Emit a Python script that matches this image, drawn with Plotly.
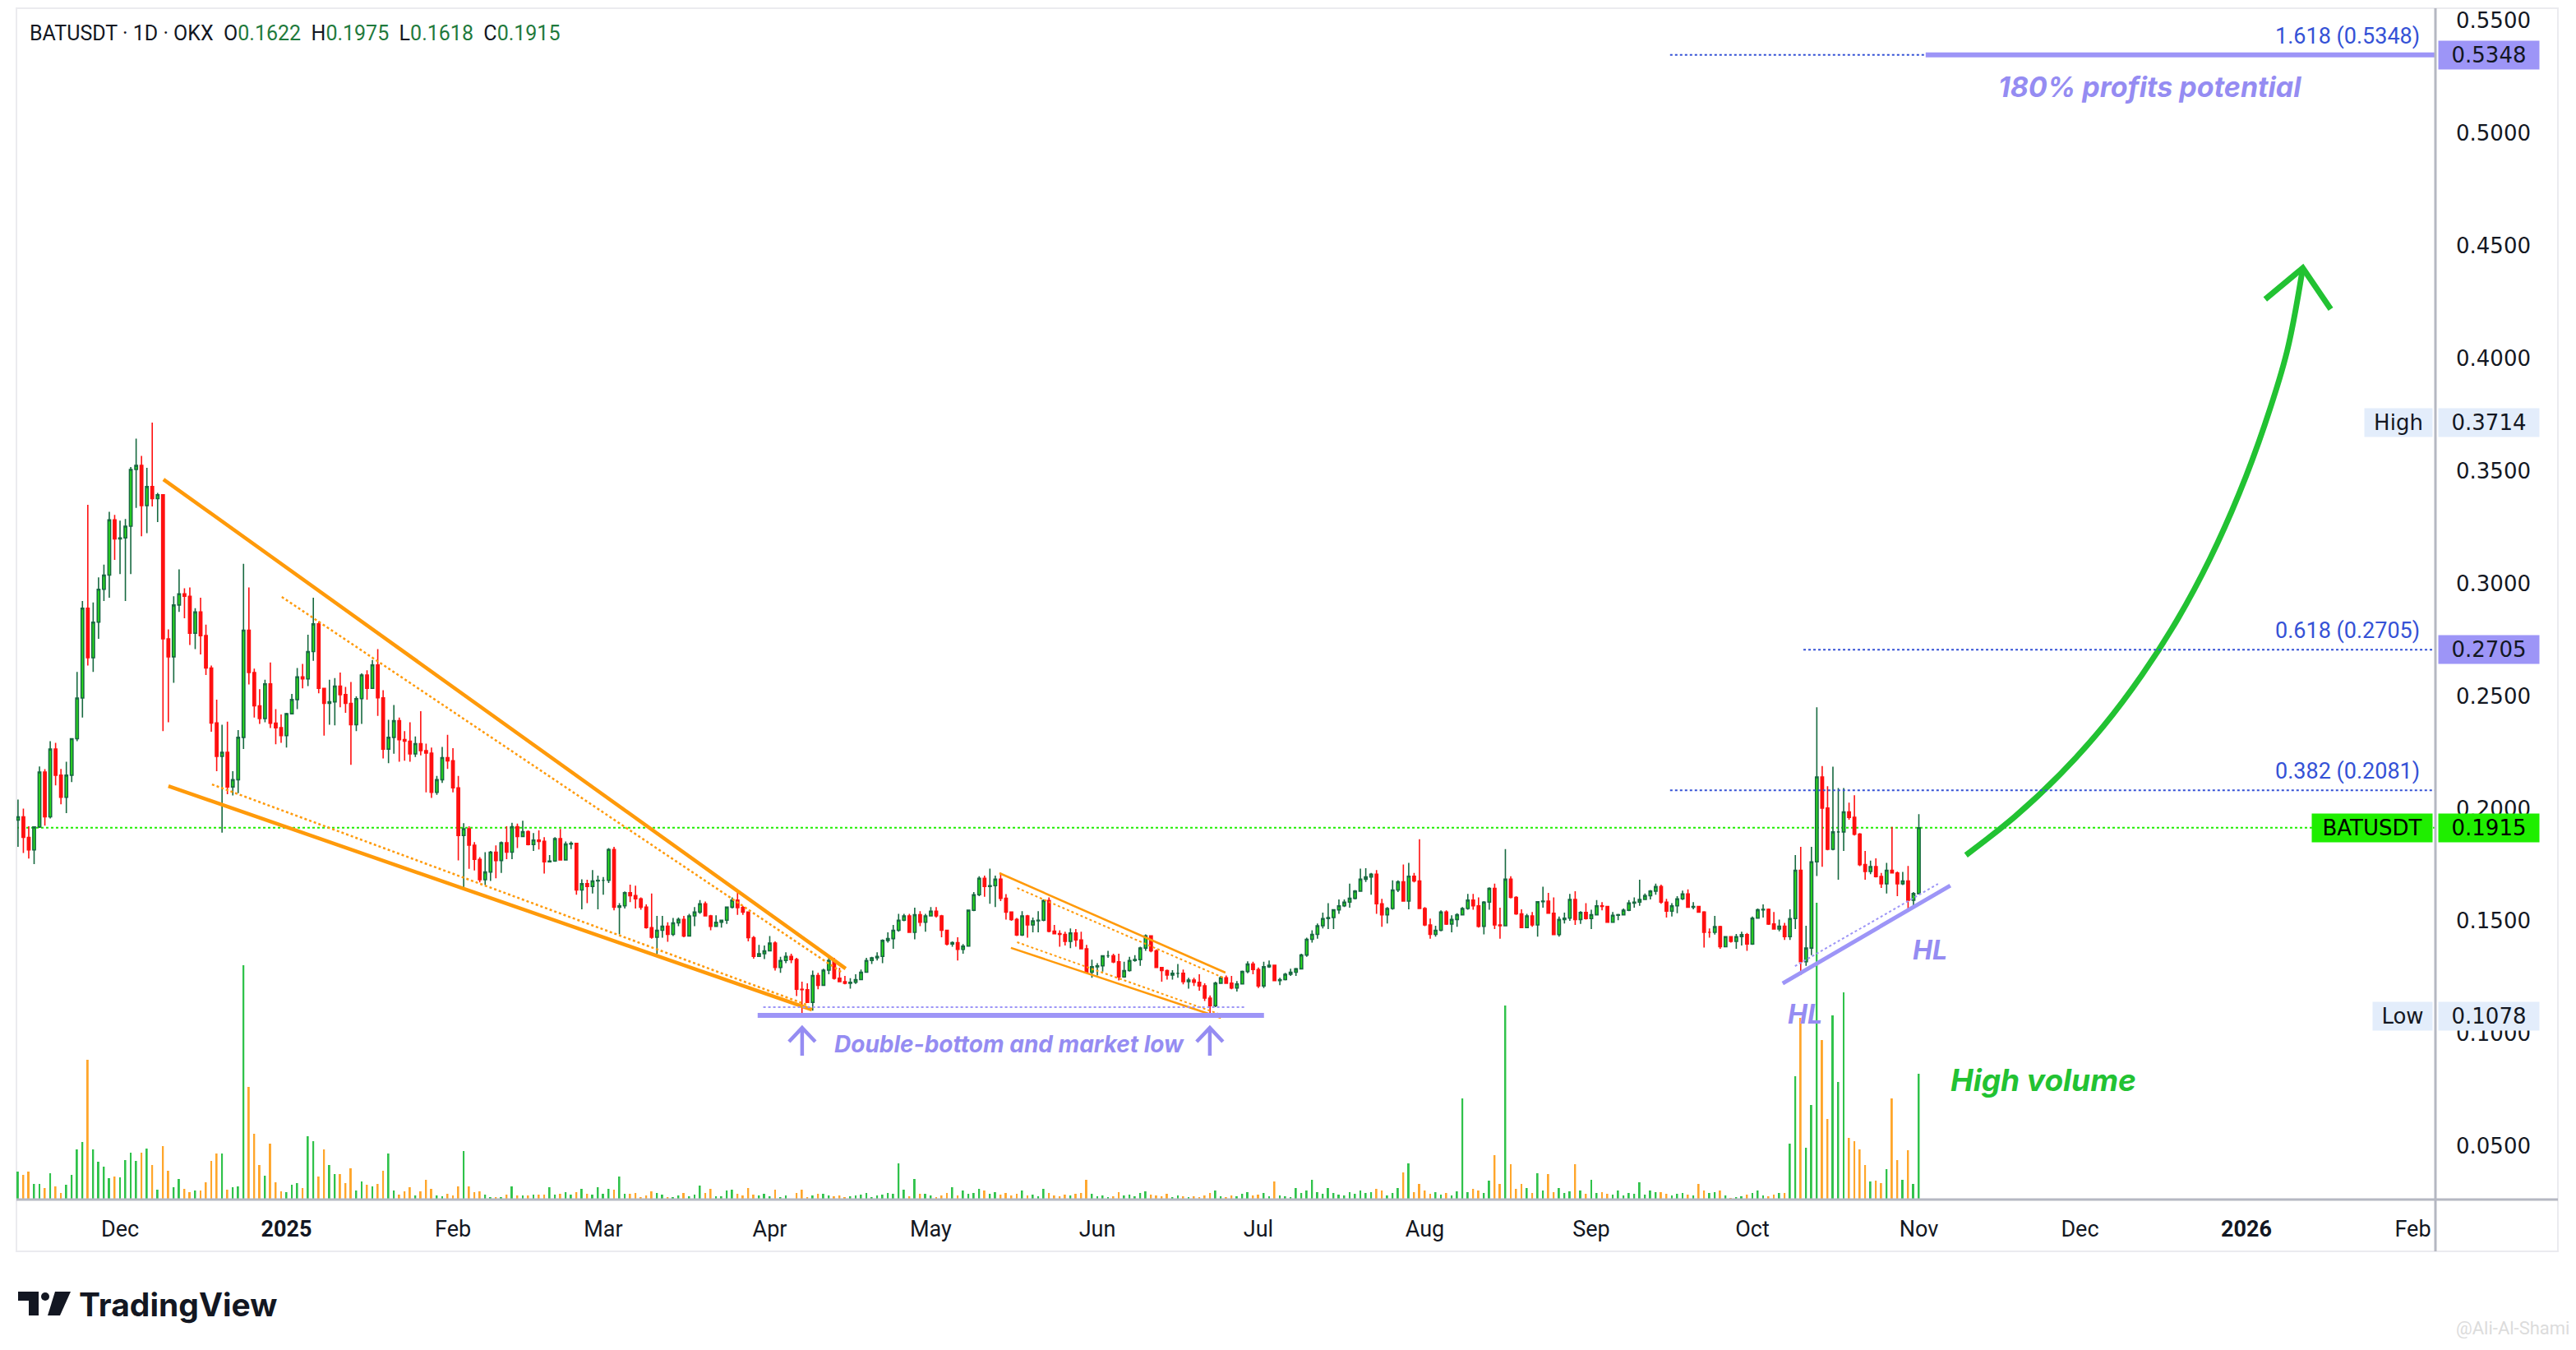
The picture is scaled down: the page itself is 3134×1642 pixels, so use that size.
import plotly.graph_objects as go
import pandas as pd

# ---------------- data (BATUSDT 1D, OKX) ----------------
START_DATE = "2024-11-12"
FIRST_OPEN = 0.1949

close = [
    0.1963, 0.1872, 0.1816, 0.1918, 0.2162, 0.1963, 0.2264, 0.2148, 0.2050, 0.2148,
    0.2310, 0.2491, 0.2890, 0.2670, 0.2828, 0.2974, 0.3037, 0.3282, 0.3198, 0.3202,
    0.3254, 0.3506, 0.3524, 0.3346, 0.3430, 0.3377, 0.3394, 0.2754, 0.2674, 0.2904,
    0.2954, 0.2943, 0.2779, 0.2873, 0.2768, 0.2624, 0.2380, 0.2232, 0.2250, 0.2096,
    0.2128, 0.2316, 0.2792, 0.2604, 0.2456, 0.2400, 0.2554, 0.2379, 0.2359, 0.2324,
    0.2421, 0.2484, 0.2585, 0.2576, 0.2697, 0.2820, 0.2534, 0.2467, 0.2474, 0.2544,
    0.2506, 0.2467, 0.2372, 0.2488, 0.2593, 0.2534, 0.2638, 0.2492, 0.2264, 0.2316,
    0.2390, 0.2306, 0.2299, 0.2243, 0.2288, 0.2257, 0.2246, 0.2072, 0.2128, 0.2226,
    0.2212, 0.2092, 0.1880, 0.1910, 0.1837, 0.1774, 0.1684, 0.1718, 0.1806, 0.1769,
    0.1848, 0.1806, 0.1919, 0.1876, 0.1897, 0.1840, 0.1860, 0.1854, 0.1763, 0.1767,
    0.1866, 0.1772, 0.1842, 0.1845, 0.1638, 0.1666, 0.1654, 0.1678, 0.1681, 0.1681,
    0.1818, 0.1562, 0.1568, 0.1626, 0.1613, 0.1599, 0.1562, 0.1471, 0.1428, 0.1459,
    0.1477, 0.1441, 0.1492, 0.1507, 0.1434, 0.1523, 0.1540, 0.1577, 0.1523, 0.1477,
    0.1495, 0.1504, 0.1562, 0.1593, 0.1560, 0.1540, 0.1426, 0.1343, 0.1355, 0.1368,
    0.1402, 0.1294, 0.1325, 0.1343, 0.1329, 0.1197, 0.1195, 0.1139, 0.1258, 0.1215,
    0.1282, 0.1325, 0.1246, 0.1231, 0.1224, 0.1228, 0.1240, 0.1273, 0.1325, 0.1337,
    0.1343, 0.1414, 0.1422, 0.1459, 0.1504, 0.1523, 0.1450, 0.1528, 0.1495, 0.1523,
    0.1544, 0.1523, 0.1459, 0.1398, 0.1404, 0.1374, 0.1389, 0.1548, 0.1617, 0.1690,
    0.1654, 0.1657, 0.1686, 0.1601, 0.1540, 0.1507, 0.1438, 0.1523, 0.1483, 0.1501,
    0.1504, 0.1591, 0.1455, 0.1444, 0.1441, 0.1410, 0.1447, 0.1416, 0.1377, 0.1273,
    0.1297, 0.1301, 0.1346, 0.1346, 0.1319, 0.1252, 0.1280, 0.1325, 0.1329, 0.1380,
    0.1434, 0.1368, 0.1294, 0.1280, 0.1260, 0.1268, 0.1268, 0.1231, 0.1238, 0.1228,
    0.1212, 0.1158, 0.1124, 0.1224, 0.1248, 0.1224, 0.1203, 0.1221, 0.1276, 0.1309,
    0.1285, 0.1212, 0.1297, 0.1304, 0.1236, 0.1240, 0.1264, 0.1273, 0.1288, 0.1349,
    0.1419, 0.1441, 0.1479, 0.1511, 0.1516, 0.1550, 0.1568, 0.1584, 0.1601, 0.1633,
    0.1686, 0.1696, 0.1708, 0.1577, 0.1528, 0.1556, 0.1638, 0.1674, 0.1589, 0.1699,
    0.1678, 0.1556, 0.1483, 0.1441, 0.1459, 0.1540, 0.1487, 0.1507, 0.1528, 0.1556,
    0.1593, 0.1568, 0.1477, 0.1584, 0.1645, 0.1483, 0.1479, 0.1686, 0.1605, 0.1532,
    0.1471, 0.1523, 0.1483, 0.1586, 0.1589, 0.1535, 0.1440, 0.1507, 0.1513, 0.1596,
    0.1507, 0.1538, 0.1511, 0.1528, 0.1568, 0.1565, 0.1495, 0.1526, 0.1528, 0.1548,
    0.1580, 0.1584, 0.1596, 0.1613, 0.1633, 0.1653, 0.1584, 0.1544, 0.1568, 0.1599,
    0.1621, 0.1562, 0.1565, 0.1540, 0.1450, 0.1450, 0.1475, 0.1386, 0.1431, 0.1410,
    0.1431, 0.1440, 0.1398, 0.1513, 0.1550, 0.1552, 0.1487, 0.1465, 0.1477, 0.1431,
    0.1511, 0.1726, 0.1320, 0.1380, 0.1763, 0.2140, 0.2002, 0.1819, 0.1896, 0.1896,
    0.1985, 0.1961, 0.1886, 0.1751, 0.1720, 0.1742, 0.1698, 0.1666, 0.1726, 0.1714,
    0.1666, 0.1678, 0.1593, 0.1622, 0.1915,
]

high = [
    0.2040, 0.2000, 0.1921, 0.1921, 0.2187, 0.2175, 0.2299, 0.2292, 0.2176, 0.2208,
    0.2313, 0.2607, 0.2922, 0.3349, 0.2915, 0.3027, 0.3083, 0.3318, 0.3304, 0.3279,
    0.3286, 0.3517, 0.3643, 0.3566, 0.3513, 0.3714, 0.3402, 0.3394, 0.2796, 0.2943,
    0.3062, 0.2978, 0.2982, 0.2890, 0.2936, 0.2817, 0.2635, 0.2484, 0.2372, 0.2386,
    0.2166, 0.2348, 0.3087, 0.2982, 0.2621, 0.2530, 0.2572, 0.2649, 0.2442, 0.2418,
    0.2425, 0.2509, 0.2624, 0.2642, 0.2772, 0.2936, 0.2831, 0.2530, 0.2572, 0.2579,
    0.2604, 0.2540, 0.2562, 0.2498, 0.2600, 0.2614, 0.2660, 0.2708, 0.2526, 0.2394,
    0.2460, 0.2404, 0.2344, 0.2383, 0.2320, 0.2432, 0.2288, 0.2271, 0.2145, 0.2274,
    0.2327, 0.2268, 0.2145, 0.1935, 0.1921, 0.1851, 0.1784, 0.1806, 0.1812, 0.1836,
    0.1854, 0.1921, 0.1937, 0.1933, 0.1946, 0.1903, 0.1891, 0.1903, 0.1873, 0.1793,
    0.1873, 0.1909, 0.1854, 0.1854, 0.1842, 0.1686, 0.1684, 0.1727, 0.1702, 0.1696,
    0.1824, 0.1830, 0.1580, 0.1632, 0.1662, 0.1657, 0.1605, 0.1574, 0.1623, 0.1523,
    0.1523, 0.1495, 0.1514, 0.1516, 0.1523, 0.1532, 0.1562, 0.1593, 0.1587, 0.1528,
    0.1526, 0.1507, 0.1565, 0.1605, 0.1626, 0.1568, 0.1538, 0.1434, 0.1394, 0.1392,
    0.1434, 0.1410, 0.1341, 0.1361, 0.1355, 0.1337, 0.1231, 0.1224, 0.1280, 0.1270,
    0.1288, 0.1337, 0.1337, 0.1292, 0.1256, 0.1246, 0.1264, 0.1285, 0.1337, 0.1341,
    0.1361, 0.1419, 0.1450, 0.1483, 0.1532, 0.1532, 0.1532, 0.1560, 0.1544, 0.1532,
    0.1562, 0.1562, 0.1528, 0.1462, 0.1410, 0.1428, 0.1398, 0.1550, 0.1629, 0.1699,
    0.1702, 0.1733, 0.1702, 0.1714, 0.1620, 0.1540, 0.1514, 0.1544, 0.1528, 0.1516,
    0.1544, 0.1596, 0.1605, 0.1483, 0.1459, 0.1453, 0.1467, 0.1465, 0.1453, 0.1394,
    0.1329, 0.1313, 0.1349, 0.1368, 0.1355, 0.1355, 0.1319, 0.1341, 0.1349, 0.1386,
    0.1441, 0.1434, 0.1374, 0.1297, 0.1285, 0.1282, 0.1309, 0.1285, 0.1248, 0.1248,
    0.1264, 0.1224, 0.1170, 0.1231, 0.1256, 0.1258, 0.1256, 0.1234, 0.1280, 0.1321,
    0.1319, 0.1294, 0.1319, 0.1325, 0.1307, 0.1248, 0.1270, 0.1288, 0.1292, 0.1355,
    0.1426, 0.1459, 0.1489, 0.1538, 0.1580, 0.1552, 0.1596, 0.1596, 0.1666, 0.1638,
    0.1733, 0.1735, 0.1714, 0.1727, 0.1599, 0.1562, 0.1681, 0.1681, 0.1751, 0.1759,
    0.1714, 0.1864, 0.1562, 0.1511, 0.1479, 0.1548, 0.1548, 0.1526, 0.1535, 0.1562,
    0.1621, 0.1621, 0.1605, 0.1589, 0.1650, 0.1666, 0.1560, 0.1820, 0.1699, 0.1611,
    0.1552, 0.1532, 0.1540, 0.1589, 0.1653, 0.1625, 0.1605, 0.1520, 0.1538, 0.1621,
    0.1633, 0.1544, 0.1580, 0.1550, 0.1593, 0.1584, 0.1568, 0.1540, 0.1532, 0.1556,
    0.1593, 0.1605, 0.1684, 0.1623, 0.1638, 0.1666, 0.1662, 0.1599, 0.1580, 0.1611,
    0.1635, 0.1641, 0.1584, 0.1568, 0.1544, 0.1467, 0.1523, 0.1479, 0.1434, 0.1431,
    0.1443, 0.1453, 0.1447, 0.1520, 0.1556, 0.1574, 0.1556, 0.1540, 0.1507, 0.1492,
    0.1552, 0.1793, 0.1830, 0.1479, 0.1830, 0.2450, 0.2189, 0.2099, 0.2186, 0.2091,
    0.2091, 0.2026, 0.2059, 0.1891, 0.1812, 0.1769, 0.1779, 0.1714, 0.1759, 0.1918,
    0.1720, 0.1718, 0.1745, 0.1629, 0.1975,
]

low = [
    0.1830, 0.1802, 0.1778, 0.1753, 0.1914, 0.1924, 0.1956, 0.2103, 0.2019, 0.1980,
    0.2117, 0.2299, 0.2404, 0.2635, 0.2607, 0.2754, 0.2922, 0.2936, 0.3104, 0.3041,
    0.2922, 0.3041, 0.3335, 0.3209, 0.3223, 0.3342, 0.3272, 0.2344, 0.2383, 0.2558,
    0.2873, 0.2845, 0.2726, 0.2708, 0.2684, 0.2593, 0.2341, 0.2166, 0.1893, 0.2064,
    0.2058, 0.2068, 0.2264, 0.2551, 0.2404, 0.2376, 0.2383, 0.2358, 0.2285, 0.2292,
    0.2271, 0.2418, 0.2442, 0.2534, 0.2544, 0.2656, 0.2512, 0.2324, 0.2372, 0.2369,
    0.2450, 0.2425, 0.2194, 0.2344, 0.2376, 0.2484, 0.2537, 0.2411, 0.2222, 0.2201,
    0.2243, 0.2208, 0.2212, 0.2208, 0.2229, 0.2236, 0.2072, 0.2047, 0.2061, 0.2114,
    0.2176, 0.2072, 0.1770, 0.1644, 0.1732, 0.1725, 0.1672, 0.1660, 0.1678, 0.1690,
    0.1714, 0.1775, 0.1775, 0.1824, 0.1873, 0.1836, 0.1812, 0.1818, 0.1711, 0.1763,
    0.1763, 0.1769, 0.1787, 0.1820, 0.1617, 0.1552, 0.1580, 0.1623, 0.1552, 0.1617,
    0.1669, 0.1548, 0.1441, 0.1556, 0.1584, 0.1556, 0.1550, 0.1466, 0.1422, 0.1353,
    0.1426, 0.1408, 0.1434, 0.1477, 0.1428, 0.1434, 0.1477, 0.1532, 0.1520, 0.1459,
    0.1477, 0.1471, 0.1487, 0.1556, 0.1528, 0.1528, 0.1410, 0.1333, 0.1343, 0.1331,
    0.1368, 0.1280, 0.1270, 0.1313, 0.1313, 0.1167, 0.1078, 0.1136, 0.1102, 0.1197,
    0.1215, 0.1264, 0.1240, 0.1228, 0.1219, 0.1200, 0.1221, 0.1240, 0.1270, 0.1309,
    0.1325, 0.1313, 0.1404, 0.1377, 0.1453, 0.1499, 0.1447, 0.1419, 0.1477, 0.1453,
    0.1520, 0.1516, 0.1428, 0.1392, 0.1386, 0.1325, 0.1355, 0.1386, 0.1544, 0.1611,
    0.1608, 0.1577, 0.1562, 0.1589, 0.1507, 0.1501, 0.1434, 0.1434, 0.1426, 0.1450,
    0.1450, 0.1499, 0.1450, 0.1441, 0.1386, 0.1392, 0.1380, 0.1386, 0.1374, 0.1270,
    0.1248, 0.1258, 0.1276, 0.1337, 0.1313, 0.1236, 0.1248, 0.1276, 0.1319, 0.1301,
    0.1368, 0.1361, 0.1292, 0.1231, 0.1240, 0.1240, 0.1248, 0.1219, 0.1200, 0.1212,
    0.1191, 0.1145, 0.1082, 0.1118, 0.1228, 0.1222, 0.1197, 0.1187, 0.1228, 0.1268,
    0.1264, 0.1203, 0.1203, 0.1292, 0.1234, 0.1215, 0.1236, 0.1256, 0.1256, 0.1285,
    0.1341, 0.1404, 0.1422, 0.1467, 0.1465, 0.1465, 0.1532, 0.1562, 0.1560, 0.1596,
    0.1633, 0.1674, 0.1617, 0.1532, 0.1475, 0.1489, 0.1550, 0.1629, 0.1587, 0.1552,
    0.1672, 0.1556, 0.1477, 0.1422, 0.1431, 0.1455, 0.1483, 0.1450, 0.1475, 0.1526,
    0.1550, 0.1550, 0.1471, 0.1441, 0.1550, 0.1465, 0.1422, 0.1479, 0.1601, 0.1528,
    0.1471, 0.1471, 0.1475, 0.1431, 0.1560, 0.1532, 0.1438, 0.1431, 0.1489, 0.1501,
    0.1483, 0.1487, 0.1507, 0.1465, 0.1528, 0.1548, 0.1492, 0.1492, 0.1504, 0.1528,
    0.1544, 0.1560, 0.1568, 0.1593, 0.1596, 0.1617, 0.1577, 0.1516, 0.1520, 0.1535,
    0.1593, 0.1560, 0.1552, 0.1538, 0.1382, 0.1426, 0.1440, 0.1377, 0.1389, 0.1404,
    0.1377, 0.1392, 0.1368, 0.1394, 0.1511, 0.1516, 0.1483, 0.1462, 0.1455, 0.1416,
    0.1416, 0.1465, 0.1260, 0.1301, 0.1349, 0.1700, 0.1741, 0.1814, 0.1814, 0.1684,
    0.1812, 0.1950, 0.1880, 0.1744, 0.1684, 0.1708, 0.1694, 0.1647, 0.1623, 0.1711,
    0.1611, 0.1660, 0.1550, 0.1568, 0.1618,
]

# daily volume, in units of 100k BAT
volume_100k = [
    35, 31, 35, 20, 20, 15, 33, 17, 9, 19,
    31, 62, 71, 171, 62, 47, 41, 27, 29, 28,
    49, 58, 48, 58, 63, 43, 13, 66, 36, 16,
    26, 14, 10, 12, 12, 22, 48, 57, 57, 13,
    16, 17, 286, 138, 81, 43, 30, 69, 22, 11,
    10, 19, 21, 15, 78, 72, 29, 62, 43, 32,
    32, 21, 39, 12, 23, 19, 17, 20, 36, 57,
    12, 7, 11, 16, 6, 11, 25, 14, 6, 5,
    8, 6, 17, 60, 17, 10, 11, 7, 4, 4,
    4, 7, 17, 6, 6, 6, 7, 7, 7, 16,
    7, 8, 10, 7, 10, 14, 8, 7, 16, 8,
    14, 13, 29, 8, 8, 9, 4, 6, 11, 9,
    7, 4, 4, 6, 9, 5, 7, 18, 9, 14,
    5, 5, 12, 13, 8, 6, 15, 7, 6, 8,
    5, 13, 4, 6, 2, 9, 13, 4, 6, 8,
    8, 6, 5, 6, 4, 5, 6, 7, 9, 4,
    6, 7, 9, 8, 45, 13, 5, 26, 8, 8,
    6, 4, 6, 9, 16, 6, 12, 8, 9, 14,
    12, 8, 10, 7, 9, 6, 8, 12, 6, 7,
    5, 14, 9, 6, 5, 7, 6, 8, 9, 25,
    8, 5, 6, 4, 5, 10, 6, 7, 5, 9,
    11, 7, 6, 5, 8, 4, 6, 5, 4, 5,
    4, 6, 9, 12, 5, 4, 6, 5, 8, 10,
    6, 7, 9, 5, 23, 6, 5, 4, 15, 9,
    12, 25, 10, 8, 15, 9, 7, 6, 10, 8,
    12, 9, 10, 14, 12, 6, 9, 15, 34, 45,
    10, 20, 12, 8, 10, 7, 9, 6, 11, 124,
    10, 14, 12, 9, 24, 55, 20, 237, 44, 14,
    20, 15, 9, 33, 12, 32, 10, 15, 9, 11,
    44, 12, 8, 25, 9, 10, 8, 7, 12, 6,
    9, 8, 22, 7, 12, 10, 10, 8, 6, 8,
    9, 7, 6, 20, 12, 9, 10, 12, 6, 3,
    4, 5, 7, 9, 12, 6, 5, 7, 9, 9,
    69, 151, 222, 64, 116, 362, 195, 99, 225, 144,
    253, 76, 72, 62, 43, 23, 24, 21, 38, 124,
    49, 25, 61, 20, 154,
]

month_ticks = ["2024-12-01", "2025-01-01", "2025-02-01", "2025-03-01", "2025-04-01",
               "2025-05-01", "2025-06-01", "2025-07-01", "2025-08-01", "2025-09-01",
               "2025-10-01", "2025-11-01", "2025-12-01", "2026-01-01", "2026-02-01"]
month_labels = ["Dec", "<b>2025</b>", "Feb", "Mar", "Apr", "May", "Jun", "Jul", "Aug",
                "Sep", "Oct", "Nov", "Dec", "<b>2026</b>", "Feb"]
price_ticks = [0.05, 0.10, 0.15, 0.20, 0.25, 0.30, 0.35, 0.40, 0.45, 0.50, 0.55]
price_labels = ["0.0500", "0.1000", "0.1500", "0.2000", "0.2500", "0.3000",
                "0.3500", "0.4000", "0.4500", "0.5000", "0.5500"]

fib_ratio = ["1.618", "0.618", "0.382"]
fib_price = [0.5348, 0.2705, 0.2081]
fib_start = ["2025-09-15 16:00", "2025-10-10 12:00", "2025-09-15 16:00"]
target_start = "2025-11-02 06:30"

X_RANGE = ["2024-11-11 17:00", "2026-02-05 05:00"]
Y_RANGE = [0.02594, 0.5555]

# ---------------- derived ----------------
dates = pd.date_range(START_DATE, periods=len(close), freq="D")
open_ = [FIRST_OPEN] + close[:-1]
high = [max(h, o, c) for h, o, c in zip(high, open_, close)]
low = [min(l, o, c) for l, o, c in zip(low, open_, close)]
up = [c >= o for o, c in zip(open_, close)]

GREEN_V = "#2fc24a"
ORANGE_V = "#ffa62b"
vol_colors = [GREEN_V if u else ORANGE_V for u in up]

W, H = 3134, 1642
ML, MR, MT, MB = 20, 171, 10, 182
PW = W - ML - MR
PH = H - MT - MB


def px(x):
    return (x - ML) / PW


def py(y):
    return (H - MB - y) / PH


PURPLE = "#9d95f7"
PURPLE_T = "#958cf2"
ORANGE = "#ff9a0a"
FIB_BLUE = "#3552d6"
LIME = "#1fee00"
TEXT = "#131722"

fig = go.Figure()

fig.add_trace(go.Bar(
    x=dates, y=volume_100k, marker=dict(color=vol_colors, line=dict(width=0)),
    width=0.3 * 86400000, yaxis="y", hoverinfo="skip", showlegend=False))

fig.add_trace(go.Candlestick(
    x=dates, open=open_, high=high, low=low, close=close, yaxis="y2",
    increasing=dict(line=dict(color="#176a40", width=1.6), fillcolor="#2be31a"),
    decreasing=dict(line=dict(color="#ff1010", width=1.6), fillcolor="#ff1010"),
    whiskerwidth=0, hoverinfo="skip", showlegend=False))

# green forecast curve with chevron head
curve_x = ["2025-11-09 18:30", "2025-11-18 21:20", "2025-11-27 09:20", "2025-12-05 06:40",
           "2025-12-12 13:00", "2025-12-19 04:30", "2025-12-25 05:20", "2025-12-30 15:00",
           "2026-01-04 10:00", "2026-01-08 14:10", "2026-01-11 12:00"]
curve_y = [0.1793, 0.1964, 0.2154, 0.2363, 0.2593, 0.2841, 0.3110, 0.3398, 0.3705, 0.4033, 0.4401]
fig.add_trace(go.Scatter(x=curve_x, y=curve_y, yaxis="y2", mode="lines",
                         line=dict(color="#22c232", width=7, shape="spline"),
                         hoverinfo="skip", showlegend=False))
fig.add_trace(go.Scatter(x=["2026-01-04 12:00", "2026-01-11 12:00", "2026-01-16 17:00"],
                         y=[0.4262, 0.4401, 0.4218], yaxis="y2", mode="lines",
                         line=dict(color="#22c232", width=7), hoverinfo="skip", showlegend=False))

# up arrows under double bottom
for tip, lft, rgt in [("2025-04-07 00:40", "2025-04-04 14:00", "2025-04-09 11:30"),
                      ("2025-06-21 23:00", "2025-06-19 12:00", "2025-06-24 09:30")]:
    fig.add_trace(go.Scatter(x=[tip, tip, None, lft, tip, rgt],
                             y=[0.0902, 0.1026, None, 0.0964, 0.1026, 0.0964],
                             yaxis="y2", mode="lines", line=dict(color=PURPLE_T, width=4.5),
                             hoverinfo="skip", showlegend=False))

shapes = []


def seg(x0, y0, x1, y1, color, width, dash="solid", layer="above"):
    shapes.append(dict(type="line", xref="x", yref="y2", x0=x0, y0=y0, x1=x1, y1=y1,
                       line=dict(color=color, width=width, dash=dash), layer=layer))


# current price line
shapes.append(dict(type="line", xref="paper", yref="y2", x0=0, x1=1, y0=close[-1], y1=close[-1],
                   line=dict(color=LIME, width=2, dash="dot"), layer="below"))

# falling wedge #1
seg("2024-12-09 02:10", 0.3462, "2025-04-15 03:20", 0.1289, ORANGE, 4.5)
seg("2024-12-10 00:15", 0.2100, "2025-04-08 20:40", 0.1106, ORANGE, 4.5)
seg("2024-12-31 03:00", 0.2940, "2025-04-14 12:00", 0.1271, ORANGE, 2.5, "dot")
seg("2024-12-18 03:00", 0.2107, "2025-04-08 06:00", 0.1125, ORANGE, 2.5, "dot")
# falling wedge #2
seg("2025-05-13 18:30", 0.1713, "2025-06-24 20:40", 0.1271, ORANGE, 2.5)
seg("2025-05-15 22:00", 0.1381, "2025-06-24 00:30", 0.1070, ORANGE, 2.5)
seg("2025-05-17 01:40", 0.1647, "2025-06-24 19:00", 0.1245, ORANGE, 2, "dot")
seg("2025-05-17 01:40", 0.1406, "2025-06-23 14:00", 0.1088, ORANGE, 2, "dot")
# double bottom support
seg("2025-03-29 18:00", 0.1081, "2025-07-02 01:00", 0.1081, PURPLE, 6)
seg("2025-03-30 19:00", 0.1118, "2025-06-28 09:00", 0.1118, PURPLE, 2, "dot")
# higher-low trendline
seg("2025-10-06 15:20", 0.1223, "2025-11-06 20:40", 0.1658, PURPLE, 5)
seg("2025-10-08 22:20", 0.1300, "2025-11-04 13:40", 0.1665, PURPLE, 2, "dot")
# fib levels
for s, p in zip(fib_start, fib_price):
    seg(s, p, X_RANGE[1], p, FIB_BLUE, 2, "dot")
seg(target_start, fib_price[0], X_RANGE[1], fib_price[0], PURPLE, 6)

# frame & axis lines
shapes.append(dict(type="rect", xref="paper", yref="paper", x0=px(20), x1=px(3112),
                   y0=py(1522), y1=py(10), line=dict(color="#ebebef", width=2), layer="below"))
shapes.append(dict(type="line", xref="paper", yref="paper", x0=px(20), x1=px(3112),
                   y0=py(1459), y1=py(1459), line=dict(color="#b5b8c2", width=3)))
shapes.append(dict(type="line", xref="paper", yref="paper", x0=px(2963), x1=px(2963),
                   y0=py(1522), y1=py(10), line=dict(color="#b5b8c2", width=3)))

# TradingView logo (approximate glyph)
shapes.append(dict(type="rect", xref="paper", yref="paper", x0=px(22), x1=px(47), y0=py(1582),
                   y1=py(1571), fillcolor=TEXT, line=dict(width=0)))
shapes.append(dict(type="rect", xref="paper", yref="paper", x0=px(35), x1=px(47), y0=py(1600),
                   y1=py(1571), fillcolor=TEXT, line=dict(width=0)))
shapes.append(dict(type="circle", xref="paper", yref="paper", x0=px(50), x1=px(60), y0=py(1582),
                   y1=py(1572), fillcolor=TEXT, line=dict(width=0)))
shapes.append(dict(type="path", xref="paper", yref="paper",
                   path=f"M {px(67)},{py(1571)} L {px(86)},{py(1571)} L {px(73)},{py(1600)} L {px(58)},{py(1600)} Z",
                   fillcolor=TEXT, line=dict(width=0)))

ann = []
AX_FONT = "DejaVu Sans"


def badge(price, text, bg, fg=TEXT):
    ann.append(dict(xref="paper", yref="y2", x=px(2966), y=price, xanchor="left", yanchor="middle",
                    text=text, showarrow=False, bgcolor=bg, width=122, height=34, borderpad=0,
                    align="center", font=dict(family=AX_FONT, size=26, color=fg)))


def tag(price, text, bg, w, fg=TEXT):
    ann.append(dict(xref="paper", yref="y2", x=px(2960), y=price, xanchor="right", yanchor="middle",
                    text=text, showarrow=False, bgcolor=bg, width=w, height=34, borderpad=0,
                    align="center", font=dict(family=AX_FONT, size=26, color=fg)))


badge(fib_price[0], f"{fib_price[0]:.4f}", PURPLE)
badge(max(high), f"{max(high):.4f}", "#e3edfb")
tag(max(high), "High", "#e3edfb", 82)
badge(fib_price[1], f"{fib_price[1]:.4f}", PURPLE)
badge(close[-1], f"{close[-1]:.4f}", LIME, "#000000")
tag(close[-1], "BATUSDT", LIME, 146, "#000000")
badge(min(low), f"{min(low):.4f}", "#e3edfb")
tag(min(low), "Low", "#e3edfb", 72)

for r, p in zip(fib_ratio, fib_price):
    ann.append(dict(xref="paper", yref="y2", x=px(2946), y=p, xanchor="right", yanchor="bottom",
                    yshift=5, text=f"{r} ({p:.4f})", showarrow=False,
                    font=dict(family="Roboto", size=27, color=FIB_BLUE)))

NUM = "#1f7a3c"
hdr = (f"BATUSDT · 1D · OKX\u00a0\u00a0O<span style='color:{NUM}'>{open_[-1]:.4f}</span>"
       f"\u00a0\u00a0H<span style='color:{NUM}'>{high[-1]:.4f}</span>"
       f"\u00a0\u00a0L<span style='color:{NUM}'>{low[-1]:.4f}</span>"
       f"\u00a0\u00a0C<span style='color:{NUM}'>{close[-1]:.4f}</span>")
ann.append(dict(xref="paper", yref="paper", x=px(34), y=py(41), xanchor="left", yanchor="middle",
                text=hdr, showarrow=False, font=dict(family="Roboto", size=25, color=TEXT)))

IT = "Inter"
ann.append(dict(xref="x", yref="y2", x="2025-12-14 01:30", y=0.5205, text="<b><i>180% profits potential</i></b>",
                showarrow=False, font=dict(family=IT, size=34, color=PURPLE_T)))
ann.append(dict(xref="x", yref="y2", x="2025-05-15 14:00", y=0.0953, text="<b><i>Double-bottom and market low</i></b>",
                showarrow=False, font=dict(family=IT, size=28, color=PURPLE_T)))
ann.append(dict(xref="x", yref="y2", x="2025-11-03 00:00", y=0.1370, text="<b><i>HL</i></b>",
                showarrow=False, font=dict(family=IT, size=32, color=PURPLE_T)))
ann.append(dict(xref="x", yref="y2", x="2025-10-10 19:00", y=0.1085, text="<b><i>HL</i></b>",
                showarrow=False, font=dict(family=IT, size=32, color=PURPLE_T)))
ann.append(dict(xref="x", yref="y2", x="2025-11-24 04:50", y=0.0793, text="<b><i>High volume</i></b>",
                showarrow=False, font=dict(family=IT, size=37, color="#22c232")))

ann.append(dict(xref="paper", yref="paper", x=px(94), y=py(1586), xanchor="left", yanchor="middle",
                text="<b>TradingView</b>", showarrow=False, font=dict(family=IT, size=39, color=TEXT)))
ann.append(dict(xref="paper", yref="paper", x=px(3128), y=py(1616), xanchor="right", yanchor="middle",
                text="@Ali-Al-Shami", showarrow=False, font=dict(family="Roboto", size=22, color="#dcdcdc")))

fig.update_layout(
    width=W, height=H, margin=dict(l=ML, r=MR, t=MT, b=MB),
    paper_bgcolor="white", plot_bgcolor="white", showlegend=False,
    boxgap=0.3,
    xaxis=dict(type="date", range=X_RANGE, tickvals=month_ticks, ticktext=month_labels,
               showgrid=False, zeroline=False, showline=False, ticks="",
               tickfont=dict(family="Roboto", size=27, color=TEXT), ticklabelstandoff=16,
               rangeslider=dict(visible=False), fixedrange=True),
    yaxis=dict(range=[0, 1450], visible=False, fixedrange=True),
    yaxis2=dict(overlaying="y", side="right", range=Y_RANGE, tickvals=price_ticks,
                ticktext=price_labels, showgrid=False, zeroline=False, showline=False, ticks="",
                tickfont=dict(family=AX_FONT, size=26, color=TEXT), ticklabelstandoff=24,
                fixedrange=True),
    shapes=shapes, annotations=ann,
)

fig.write_html("out.html", config={"displayModeBar": False},
               post_script="document.body.style.margin='0';document.body.style.overflow='hidden';")
